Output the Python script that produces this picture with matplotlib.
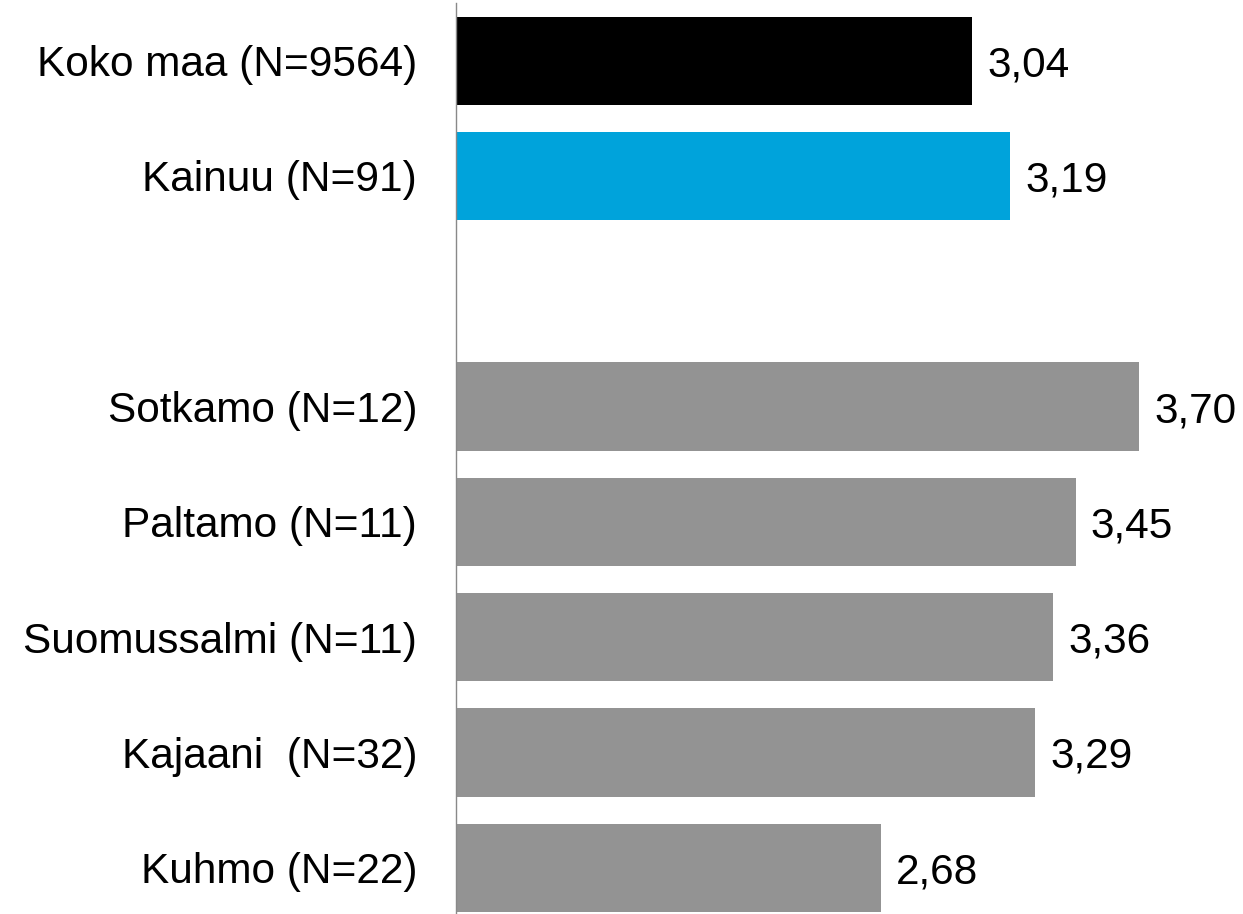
import numpy as np
import matplotlib.pyplot as plt

plt.rcParams['font.family'] = ['Liberation Sans', 'DejaVu Sans']

labels = ['Koko maa (N=9564)', 'Kainuu (N=91)', '',
          'Sotkamo (N=12)', 'Paltamo (N=11)', 'Suomussalmi (N=11)',
          'Kajaani  (N=32)', 'Kuhmo (N=22)']
values = [3.04, 3.19, None, 3.70, 3.45, 3.36, 3.29, 2.68]
colors = ['#000000', '#00A3DB', None, '#939393', '#939393', '#939393',
          '#939393', '#939393']

base = 1.0

W, H = 1243, 914
fig = plt.figure(figsize=(W / 100, H / 100), dpi=100)
slot = 115.3
ax = fig.add_axes([456 / W, (H - 3 - 8 * slot) / H, 784 / W, 8 * slot / H])

for i, (v, c) in enumerate(zip(values, colors)):
    if v is None:
        continue
    ax.barh(i, v - base, left=base, height=0.765, color=c)
    ax.text(v + 0.06, i, f'{v:.2f}'.replace('.', ','), va='center_baseline',
            ha='left', fontsize=30.5)

ax.set_xlim(base, 4.1)
ax.set_ylim(7.5, -0.5)
ax.set_yticks(range(len(labels)))
ax.set_yticklabels(labels, fontsize=30.5, va='center_baseline')
ax.tick_params(axis='y', length=0, pad=28)
ax.set_xticks([])
for s in ['top', 'right', 'bottom']:
    ax.spines[s].set_visible(False)
ax.spines['left'].set_color('#898989')
ax.spines['left'].set_linewidth(1.0)

fig.savefig('out.png', dpi=100)
